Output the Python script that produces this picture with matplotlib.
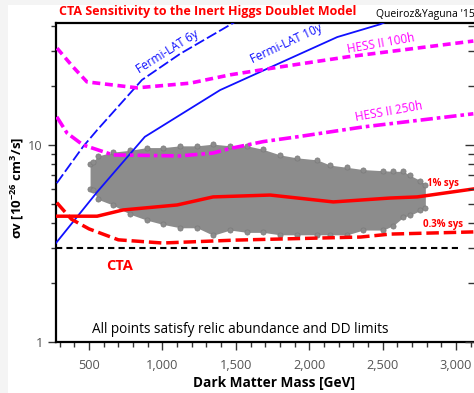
import numpy as np
import matplotlib
matplotlib.use("Agg")
import matplotlib.pyplot as plt
from matplotlib.patches import Rectangle
from matplotlib.ticker import FixedLocator, FuncFormatter, NullFormatter

plt.rcParams['font.family'] = ['Open Sans', 'DejaVu Sans']

# ---- data ----
# Fermi-LAT dwarf limits
fermi6_mass = [280, 459, 555, 861, 1120, 1482, 1530]
fermi6_sv = [6.4, 9.8, 11.9, 21.4, 29.0, 41.6, 44.0]
fermi10_mass = [275, 555, 880, 1393, 2191, 2484, 2560]
fermi10_sv = [3.18, 5.77, 11.0, 19.0, 35.3, 41.0, 43.5]

# HESS II projections
hess100_mass = [282, 391, 486, 827, 1189, 1461, 1802, 2259, 3118]
hess100_sv = [31.0, 24.9, 20.9, 19.5, 20.6, 22.7, 24.9, 28.0, 33.7]
hess250_mass = [280, 350, 459, 664, 1120, 1345, 1461, 1686, 1918, 2368, 3118]
hess250_sv = [13.9, 11.5, 10.0, 8.9, 8.8, 9.1, 9.6, 10.4, 11.0, 12.35, 14.4]

# CTA projections
cta1_mass = [282, 555, 732, 1100, 1345, 1734, 2164, 2552, 2736, 3118]
cta1_sv = [4.35, 4.35, 4.68, 4.96, 5.45, 5.57, 5.14, 5.38, 5.45, 5.98]
cta03_mass = [280, 380, 500, 700, 1000, 1500, 2350, 2552, 3118]
cta03_sv = [5.1, 4.2, 3.75, 3.3, 3.18, 3.29, 3.41, 3.53, 3.62]

# thermal cross section
thermal_mass = [275, 3010]
thermal_sv = [3.0, 3.0]

# envelope of the IHDM points cloud
cloud_mass = [507, 527, 561, 664, 780, 895, 1005, 1120, 1236, 1345, 1461, 1577,
              1686, 1802, 1918, 2055, 2143, 2259, 2368, 2505, 2573, 2641, 2689,
              2757, 2791]
cloud_top = [8.0, 8.2, 8.8, 9.2, 9.4, 9.7, 9.7, 9.9, 9.9, 10.1, 9.9, 9.9, 9.5,
             8.9, 8.6, 8.4, 7.9, 7.7, 7.5, 7.4, 7.35, 7.35, 7.0, 6.6, 6.3]
cloud_bottom = [6.0, 5.9, 5.3, 4.95, 4.45, 4.15, 3.95, 3.8, 3.8, 3.48, 3.7, 3.6,
                3.6, 3.5, 3.5, 3.5, 3.5, 3.5, 3.7, 3.7, 3.9, 4.3, 4.4, 4.65, 4.8]

x_major = [500, 1000, 1500, 2000, 2500, 3000]

W, H = 474, 393
fig = plt.figure(figsize=(W / 100, H / 100), dpi=100)
fig.patch.set_facecolor('#f4f4f4')
fig.patches.append(Rectangle((8 / W, 0), 1, 1 - 5 / H, transform=fig.transFigure,
                             facecolor='white', edgecolor='none', zorder=-10))

# axes frame runs a bit past the right edge of the image
ax = fig.add_axes([56 / W, 51 / H, 420 / W, 319 / H])
ax.set_yscale('log')
ax.set_xlim(275, 3136)
ax.set_ylim(1, 41.6)

gray = '#8c8c8c'
ax.fill_between(cloud_mass, cloud_bottom, cloud_top, color=gray, lw=0, zorder=2)
ax.scatter(cloud_mass + cloud_mass, cloud_top + cloud_bottom, s=14, color=gray,
           edgecolors='#7a7a7a', linewidths=0.5, zorder=2)

blue = '#1010ff'
mag = '#ff00ff'
red = '#ff0000'
ax.plot(fermi6_mass, fermi6_sv, color=blue, lw=1.3, dashes=(6, 1.8), zorder=4)
ax.plot(fermi10_mass, fermi10_sv, color=blue, lw=1.3, zorder=4)
ax.plot(hess100_mass, hess100_sv, color=mag, lw=2.6, dashes=(2.2, 1.3), zorder=4)
ax.plot(hess250_mass, hess250_sv, color=mag, lw=2.6, dashes=(3.4, 1.1, 1.0, 1.1), zorder=4)
ax.plot(cta1_mass, cta1_sv, color=red, lw=2.5, zorder=5)
ax.plot(cta03_mass, cta03_sv, color=red, lw=2.5, dashes=(3.6, 1.4), zorder=5)
ax.plot(thermal_mass, thermal_sv, color='black', lw=1.5, dashes=(3, 2), zorder=3)

# labels on the curves, nudged a few points off the lines
def curve_label(x, y, s, color, rot, dx, dy):
    ax.annotate(s, xy=(x, y), xytext=(dx, dy), textcoords='offset points',
                color=color, fontsize=8.5, rotation=rot, ha='center',
                va='center', rotation_mode='anchor')

curve_label(1052, 28.6, 'Fermi-LAT 6y', blue, 32, -1.5, 2.5)
curve_label(1857, 31.0, 'Fermi-LAT 10y', blue, 25, -1.5, 3.5)
curve_label(2491, 31.0, 'HESS II 100h', mag, 10, 0, 3.5)
curve_label(2545, 14.0, 'HESS II 250h', mag, 10, 0, 3)

ax.text(2914, 6.34, '1% sys', color=red, fontsize=7, fontweight='bold',
        ha='center', va='center')
ax.text(2914, 3.97, '0.3% sys', color=red, fontsize=7, fontweight='bold',
        ha='center', va='center')
ax.text(705, 2.43, 'CTA', color=red, fontsize=10.5, fontweight='bold',
        ha='center', va='center')
ax.text(1530, 1.16, 'All points satisfy relic abundance and DD limits',
        color='black', fontsize=9.8, ha='center', va='center')

# ticks
ax.xaxis.set_major_locator(FixedLocator(x_major))
ax.xaxis.set_minor_locator(FixedLocator(np.arange(300, 3200, 100)))
ax.xaxis.set_major_formatter(FuncFormatter(lambda v, p: f'{int(v):,}'))
ax.yaxis.set_major_locator(FixedLocator([1, 10]))
ax.yaxis.set_major_formatter(FuncFormatter(lambda v, p: f'{int(v)}'))
ax.yaxis.set_minor_formatter(NullFormatter())
ax.tick_params(axis='both', which='major', direction='out', length=6, width=1,
               labelsize=9.2, labelcolor='#555555', color='#333333')
ax.tick_params(axis='both', which='minor', direction='out', length=3.6, width=1,
               color='#333333')
ax.tick_params(axis='x', which='major', pad=6.5)
ax.tick_params(axis='y', which='major', pad=3.5)
ax.tick_params(axis='x', which='both', top=False)
for sp in ax.spines.values():
    sp.set_linewidth(1.6)

# inward ticks on the right side
ax2 = ax.twinx()
ax2.set_yscale('log')
ax2.set_ylim(ax.get_ylim())
ax2.yaxis.set_major_locator(FixedLocator([1, 10]))
ax2.yaxis.set_major_formatter(NullFormatter())
ax2.yaxis.set_minor_formatter(NullFormatter())
ax2.tick_params(which='major', direction='in', length=8, width=1, color='#333333')
ax2.tick_params(which='minor', direction='in', length=5.5, width=1, color='#333333')
for sp in ax2.spines.values():
    sp.set_visible(False)

fig.text(208 / W, 1 - 12 / H, 'CTA Sensitivity to the Inert Higgs Doublet Model',
         color=red, fontsize=9, fontweight='bold', ha='center', va='center')
fig.text(425 / W, 1 - 15 / H, "Queiroz&Yaguna '15", color='black', fontsize=7.5,
         ha='center', va='center')
fig.text(274 / W, 1 - 383 / H, 'Dark Matter Mass [GeV]', fontsize=9.8,
         fontweight='bold', ha='center', va='center')
fig.text(17 / W, 1 - 188 / H, r'σv [10$^{\mathregular{-26}}$ cm$^{\mathregular{3}}$/s]',
         fontsize=9.5, fontweight='bold', rotation=90, ha='center', va='center')

fig.savefig('out.png', dpi=100)
